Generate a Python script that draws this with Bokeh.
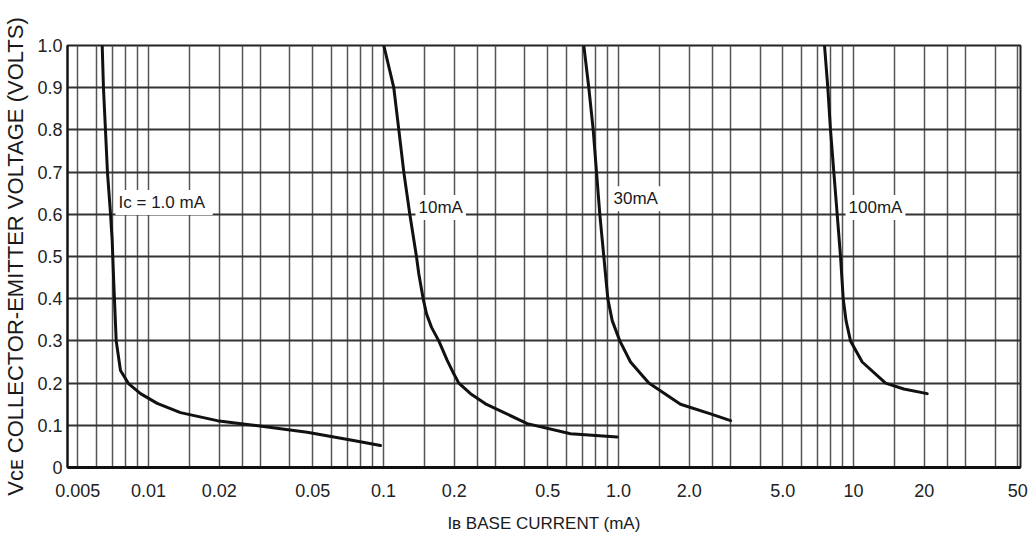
from bokeh.plotting import figure
from bokeh.models import Range1d, FixedTicker, CustomJSTickFormatter, Label
from bokeh.embed import file_html
from bokeh.resources import INLINE

# ---- data ----
ib_1ma = [0.006353, 0.006434, 0.006690, 0.006890, 0.007006, 0.007117, 0.007287, 0.007600, 0.008222,
          0.009248, 0.010889, 0.013683, 0.019599, 0.02630, 0.04736, 0.07451, 0.09710]
vce_1ma = [1.0, 0.898, 0.699, 0.602, 0.538, 0.436, 0.30, 0.23, 0.199,
           0.175, 0.152, 0.130, 0.111, 0.102, 0.0837, 0.064, 0.052]

ib_10ma = [0.1003, 0.1106, 0.1162, 0.1220, 0.1294, 0.1381, 0.1413, 0.1475, 0.1524, 0.1601,
           0.1719, 0.1867, 0.1991, 0.2091, 0.2346, 0.2716, 0.4088, 0.6249, 0.9874]
vce_10ma = [1.0, 0.9, 0.8, 0.7, 0.6, 0.5, 0.459, 0.4, 0.364, 0.332,
            0.3, 0.254, 0.222, 0.2, 0.175, 0.151, 0.104, 0.080, 0.072]

ib_30ma = [0.7117, 0.7475, 0.7804, 0.8061, 0.8326, 0.8659, 0.9005, 0.9402, 1.0128, 1.1248,
           1.346, 1.835, 2.464, 2.998]
vce_30ma = [1.0, 0.9, 0.8, 0.7, 0.6, 0.5, 0.4, 0.348, 0.3, 0.25,
            0.2, 0.15, 0.127, 0.111]

ib_100ma = [7.526, 7.773, 7.981, 8.245, 8.522, 8.804, 9.040, 9.293, 9.710, 10.89, 13.69, 16.37, 20.58]
vce_100ma = [1.0, 0.9, 0.8, 0.7, 0.6, 0.5, 0.4, 0.348, 0.3, 0.25, 0.2, 0.186, 0.175]

curve_labels = ["I\u1d04  = 1.0 mA", "10mA", "30mA", "100mA"]
label_ib = [0.00724, 0.1368, 0.9247, 9.248]
label_vce = [0.628, 0.616, 0.637, 0.616]

x_tick_values = [0.005, 0.01, 0.02, 0.05, 0.1, 0.2, 0.5, 1.0, 2.0, 5.0, 10, 20, 50]
x_tick_labels = ["0.005", "0.01", "0.02", "0.05", "0.1", "0.2", "0.5", "1.0", "2.0", "5.0", "10", "20", "50"]
y_tick_values = [0, 0.1, 0.2, 0.3, 0.4, 0.5, 0.6, 0.7, 0.8, 0.9, 1.0]
y_tick_labels = ["0", "0.1", "0.2", "0.3", "0.4", "0.5", "0.6", "0.7", "0.8", "0.9", "1.0"]

x_title = "I\u0299 BASE CURRENT (mA)"
y_title = "V\u1d04\u1d07 COLLECTOR-EMITTER VOLTAGE (VOLTS)"

x_min, x_max = 0.004522, 51.35
grid_mantissas = [1, 1.5, 2, 2.5, 3, 4, 5, 6, 7, 8, 9]
grid_decades = [0.001, 0.01, 0.1, 1, 10]

FONT = "Liberation Sans"
INK = "#111111"

p = figure(width=1034, height=538, x_axis_type="log",
           x_range=Range1d(x_min, x_max), y_range=Range1d(0, 1.0),
           output_backend="svg", toolbar_location=None,
           min_border_left=67, min_border_top=45, min_border_bottom=71, min_border_right=14)
p.background_fill_color = "white"
p.border_fill_color = "white"
p.outline_line_color = "#222222"
p.outline_line_width = 2

# axes
fmt_code = """
let best = -1, bd = 1e9;
for (let i = 0; i < vals.length; i++) {
  const d = Math.abs(vals[i] - tick) / Math.max(Math.abs(vals[i]), 1e-9);
  if (d < bd) { bd = d; best = i; }
}
if (vals[best] == 0 && Math.abs(tick) < 1e-9) return labs[best];
return bd < 1e-6 ? labs[best] : "";
"""
p.xaxis.ticker = FixedTicker(ticks=x_tick_values)
p.xaxis.formatter = CustomJSTickFormatter(args=dict(vals=x_tick_values, labs=x_tick_labels), code=fmt_code)
p.yaxis.ticker = FixedTicker(ticks=y_tick_values)
p.yaxis.formatter = CustomJSTickFormatter(args=dict(vals=y_tick_values, labs=y_tick_labels), code=fmt_code)

for ax in (p.xaxis[0], p.yaxis[0]):
    ax.major_tick_in = 0
    ax.major_tick_out = 0
    ax.minor_tick_line_color = None
    ax.major_label_text_font = FONT
    ax.major_label_text_font_size = "18px"
    ax.major_label_text_color = "#222222"
    ax.axis_line_color = "#111111"
    ax.axis_label_text_font = FONT
    ax.axis_label_text_font_style = "normal"
    ax.axis_label_text_color = "#1a1a1a"
p.xaxis.axis_line_width = 3
p.yaxis.axis_line_width = 2
p.xaxis.major_label_standoff = 16
p.yaxis.major_label_standoff = 5

p.xaxis.axis_label = x_title
p.xaxis.axis_label_text_font_size = "17px"
p.xaxis.axis_label_standoff = 14
p.yaxis.axis_label = y_title
p.yaxis.axis_label_text_font_size = "22px"
p.yaxis.axis_label_standoff = 6

# grid
grid_ticks = [m * d for d in grid_decades for m in grid_mantissas]
grid_ticks = [g for g in grid_ticks if x_min <= g <= x_max]
p.xgrid.ticker = FixedTicker(ticks=grid_ticks)
p.xgrid.grid_line_color = "#555555"
p.xgrid.grid_line_width = 1.5
p.ygrid.ticker = FixedTicker(ticks=y_tick_values)
p.ygrid.grid_line_color = "#333333"
p.ygrid.grid_line_width = 2

# curves
for xs, ys in [(ib_1ma, vce_1ma), (ib_10ma, vce_10ma), (ib_30ma, vce_30ma), (ib_100ma, vce_100ma)]:
    p.line(xs, ys, line_color=INK, line_width=3, line_join="round", line_cap="round")

# curve labels with white backing
for lx, ly, txt in zip(label_ib, label_vce, curve_labels):
    lab = Label(x=lx, y=ly, text=txt, text_font=FONT, text_font_size="17px",
                text_color="#1a1a1a", text_baseline="alphabetic",
                background_fill_color="white", padding=3)
    p.add_layout(lab)

open("out.html", "w").write(file_html(p, INLINE))
